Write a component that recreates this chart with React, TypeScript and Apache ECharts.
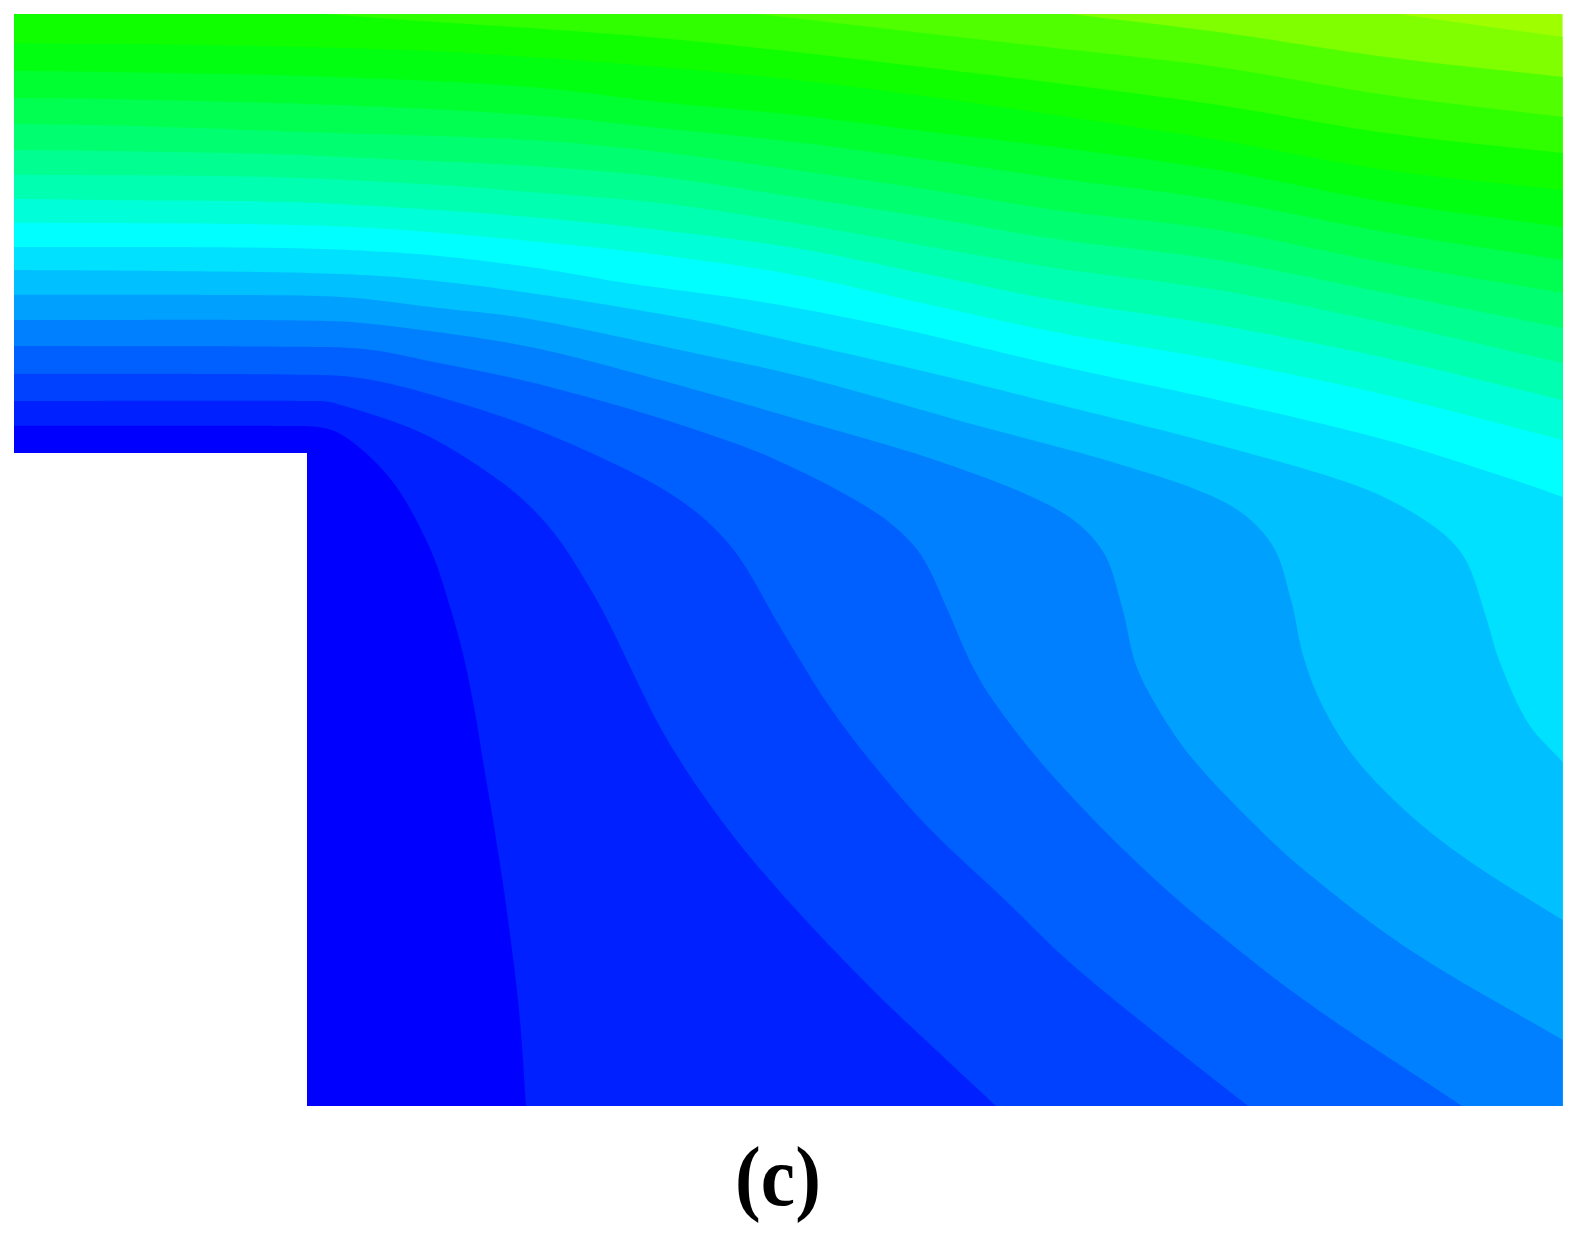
import React, { useEffect, useRef } from "react";
import * as echarts from "echarts";

type Pt = [number, number];

const xMin = 14;
const xMax = 1562.6;
const yMin = 14;
const yMax = 1106;

const contour1: Pt[] = [[14, 425.7], [290, 426], [324, 428], [347, 438], [381, 468], [405, 500], [432, 553], [447, 597], [462, 650], [474, 707], [484, 767], [493, 820], [506, 905], [519, 1010], [526, 1106]];
const contour2: Pt[] = [[14, 401], [314, 401], [334, 403], [415, 430], [466, 458], [520, 497], [557, 537], [591, 590], [611, 627], [635, 677], [660, 727], [690, 776], [721, 820], [755, 863], [812, 927], [880, 997], [936, 1050], [996, 1106]];
const contour3: Pt[] = [[14, 373.7], [321, 375], [372, 380], [439, 397], [530, 427], [643, 478], [696, 512], [736, 553], [780, 627], [800, 660], [825, 700], [864, 753], [926, 825], [1005, 900], [1067, 960], [1148, 1027], [1248, 1106]];
const contour4: Pt[] = [[14, 346], [321, 347], [372, 350], [439, 363], [530, 382], [643, 413], [745, 447], [800, 471], [850, 497], [889, 522], [921, 555], [949, 613], [968, 657], [988, 693], [1033, 753], [1092, 818], [1148, 873], [1198, 917], [1304, 1000], [1462, 1106]];
const contour5: Pt[] = [[14, 320], [328, 321], [406, 328], [530, 347], [660, 380], [800, 420], [944, 463], [1058, 510], [1102, 550], [1122, 607], [1136, 665], [1160, 712], [1191, 757], [1245, 815], [1304, 870], [1410, 950], [1562.6, 1040]];
const contour6: Pt[] = [[14, 294.7], [220, 295], [341, 297], [439, 308], [530, 319], [694, 353], [795, 375], [887, 400], [964, 422], [1122, 465], [1226, 503], [1271, 543], [1291, 600], [1303, 655], [1322, 705], [1355, 758], [1410, 815], [1472, 863], [1562.6, 920]];
const contour7: Pt[] = [[14, 270], [162, 271], [308, 273], [406, 278], [530, 293], [694, 320], [795, 342], [931, 373], [1040, 400], [1218, 445], [1360, 487], [1429, 523], [1464, 557], [1486, 617], [1499, 660], [1528, 723], [1562.6, 762]];
const contour8: Pt[] = [[14, 247], [281, 248], [416, 254], [530, 267], [626, 283], [762, 302], [897, 328], [1055, 365], [1218, 400], [1386, 440], [1514, 480], [1562.6, 497]];
const contour9: Pt[] = [[14, 222.7], [237, 224], [372, 228], [530, 241], [660, 255], [795, 275], [931, 305], [1055, 332], [1218, 360], [1386, 395], [1562.6, 440]];
const contour10: Pt[] = [[14, 198.7], [101, 200], [287, 202], [406, 208], [530, 217], [660, 230], [795, 248], [931, 275], [1055, 300], [1218, 325], [1386, 358], [1562.6, 400]];
const contour11: Pt[] = [[14, 174.7], [270, 177], [439, 185], [530, 192], [660, 203], [795, 223], [931, 247], [1055, 268], [1218, 290], [1386, 323], [1562.6, 363]];
const contour12: Pt[] = [[14, 150], [101, 151], [270, 154], [406, 160], [530, 166], [660, 177], [795, 197], [931, 218], [1055, 239], [1218, 260], [1386, 293], [1562.6, 328]];
const contour13: Pt[] = [[14, 124], [135, 126], [304, 132], [530, 140], [660, 152], [795, 170], [931, 190], [1055, 210], [1218, 230], [1386, 263], [1562.6, 293]];
const contour14: Pt[] = [[14, 98], [108, 99], [338, 105], [530, 115], [660, 128], [795, 142], [931, 160], [1055, 178], [1218, 200], [1386, 232], [1562.6, 260]];
const contour15: Pt[] = [[14, 70.7], [169, 73], [338, 77], [530, 87], [660, 102], [795, 115], [931, 132], [1055, 147], [1218, 170], [1386, 202], [1562.6, 227]];
const contour16: Pt[] = [[14, 43.3], [203, 45], [406, 50], [530, 57], [660, 67], [795, 80], [931, 97], [1055, 115], [1218, 140], [1386, 170], [1562.6, 190]];
const contour17: Pt[] = [[326, 14], [406, 20], [530, 28], [660, 38], [795, 52], [931, 68], [1055, 83], [1218, 105], [1386, 133], [1562.6, 153]];
const contour18: Pt[] = [[758, 14], [897, 30], [1055, 48], [1218, 67], [1386, 95], [1562.6, 117]];
const contour19: Pt[] = [[1070, 14], [1218, 32], [1386, 57], [1562.6, 77]];
const contour20: Pt[] = [[1398, 14], [1562.6, 37]];

const contours: Pt[][] = [
  contour1, contour2, contour3, contour4, contour5, contour6, contour7, contour8, contour9, contour10,
  contour11, contour12, contour13, contour14, contour15, contour16, contour17, contour18, contour19, contour20,
];

// bandColors[k] fills the band just below contours[k] (k = 0 is the lowest level).
const bandColors = [
  "#0000ff", "#0020ff", "#0040ff", "#0060ff", "#0080ff", "#00a0ff", "#00c0ff", "#00e0ff", "#00ffff",
  "#00ffd8", "#00ffb0", "#00ff90", "#00ff70", "#00ff50", "#00ff30", "#00ff10",
  "#10ff00", "#30ff00", "#50ff00", "#7fff00", "#9fff00",
];

const notch: Pt[] = [[xMin, 453], [307, 453], [307, yMax], [xMin, yMax]];
const caption = "(c)";

const domain: Pt[] = [[xMin, yMin], [xMax, yMin], [xMax, yMax], [xMin, yMax]];

// Chord-length cubic spline through screen points, sampled for a polygon outline.
function smoothThrough(p: number[][]): number[][] {
  const n = p.length;
  if (n < 3) return p;
  const dist = (a: number[], b: number[]) => Math.hypot(a[0] - b[0], a[1] - b[1]);
  const tangent = (i: number) => {
    const a = p[Math.max(i - 1, 0)];
    const b = p[Math.min(i + 1, n - 1)];
    const d = dist(a, b) || 1;
    return [(b[0] - a[0]) / d, (b[1] - a[1]) / d];
  };
  const out: number[][] = [p[0]];
  for (let i = 0; i < n - 1; i++) {
    const len = dist(p[i], p[i + 1]);
    const t0 = tangent(i);
    const t1 = tangent(i + 1);
    const c1 = [p[i][0] + (t0[0] * len) / 3, p[i][1] + (t0[1] * len) / 3];
    const c2 = [p[i + 1][0] - (t1[0] * len) / 3, p[i + 1][1] - (t1[1] * len) / 3];
    const steps = Math.max(4, Math.ceil(len / 8));
    for (let s = 1; s <= steps; s++) {
      const t = s / steps;
      const u = 1 - t;
      out.push([
        u * u * u * p[i][0] + 3 * u * u * t * c1[0] + 3 * u * t * t * c2[0] + t * t * t * p[i + 1][0],
        u * u * u * p[i][1] + 3 * u * u * t * c1[1] + 3 * u * t * t * c2[1] + t * t * t * p[i + 1][1],
      ]);
    }
  }
  return out;
}

function regionBelow(line: Pt[], coord: (p: Pt) => number[]): number[][] {
  const first = line[0];
  const last = line[line.length - 1];
  const pts: number[][] = [];
  if (first[1] <= yMin) pts.push(coord([xMin, yMin]));
  pts.push(...smoothThrough(line.map(coord)));
  if (last[1] < yMax) pts.push(coord([xMax, yMax]));
  pts.push(coord([xMin, yMax]));
  return pts;
}

// Painted top band first, each next level over the previous one, notch last.
const layerOrder = contours.map((_, i) => contours.length - 1 - i);

export default function App() {
  const ref = useRef<HTMLDivElement>(null);
  useEffect(() => {
    if (!ref.current) return;
    const chart = echarts.init(ref.current, undefined, { renderer: "svg" });
    const count = layerOrder.length + 2;
    chart.setOption({
      animation: false,
      backgroundColor: "#ffffff",
      grid: { left: xMin, top: yMin, width: xMax - xMin, height: yMax - yMin, containLabel: false },
      xAxis: { type: "value", min: xMin, max: xMax, show: false },
      yAxis: { type: "value", min: yMin, max: yMax, inverse: true, show: false },
      tooltip: { show: false },
      series: [
        {
          type: "custom",
          coordinateSystem: "cartesian2d",
          silent: true,
          clip: false,
          data: Array.from({ length: count }, (_, i) => [i]),
          encode: { x: [], y: [] },
          renderItem: (_params: any, api: any) => {
            const i = api.value(0);
            const coord = (p: Pt) => api.coord(p);
            let points: number[][];
            let fill: string;
            if (i === 0) {
              points = domain.map(coord);
              fill = bandColors[contours.length];
            } else if (i === count - 1) {
              points = notch.map(coord);
              fill = "#ffffff";
            } else {
              const k = layerOrder[i - 1];
              points = regionBelow(contours[k], coord);
              fill = bandColors[k];
            }
            return { type: "polygon", shape: { points }, style: { fill, stroke: "none" } };
          },
        },
      ],
      graphic: [
        {
          type: "text",
          x: 778,
          y: 1176,
          scaleX: 0.92,
          style: {
            text: caption,
            fill: "#000000",
            font: 'bold 84px "Liberation Serif"',
            textAlign: "center",
            textVerticalAlign: "middle",
          },
        },
      ],
    });
    return () => chart.dispose();
  }, []);
  return <div ref={ref} style={{ position: "absolute", left: 0, top: 0, width: 1577, height: 1240 }} />;
}
